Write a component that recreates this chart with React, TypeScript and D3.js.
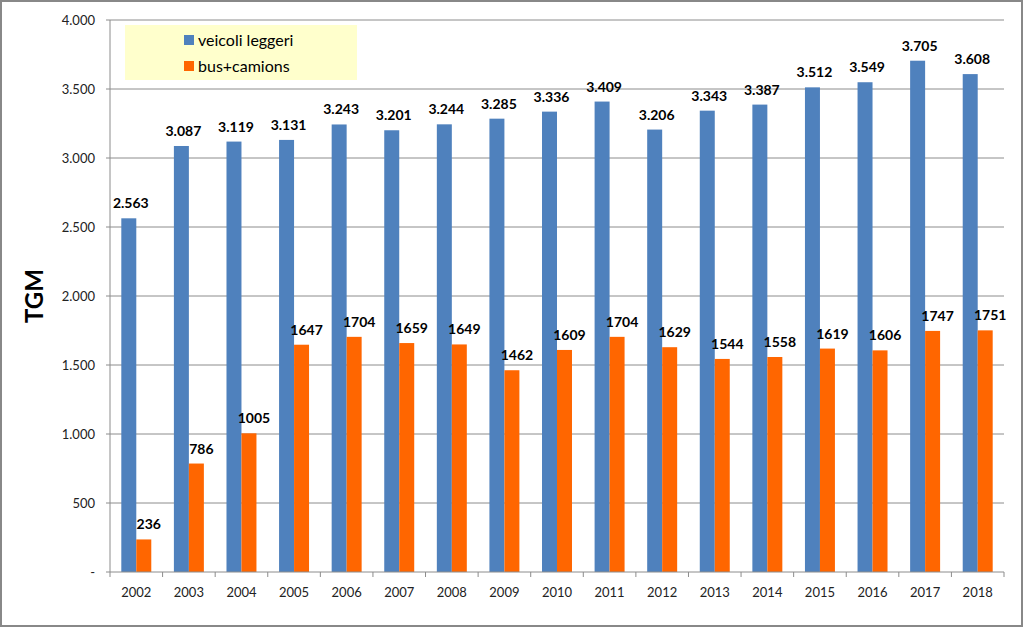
import React from "react";
import * as d3 from "d3";

const years = ["2002","2003","2004","2005","2006","2007","2008","2009","2010","2011","2012","2013","2014","2015","2016","2017","2018"];
const leggeri = [2563,3087,3119,3131,3243,3201,3244,3285,3336,3409,3206,3343,3387,3512,3549,3705,3608];
const bus = [236,786,1005,1647,1704,1659,1649,1462,1609,1704,1629,1544,1558,1619,1606,1747,1751];
const yTicks = [0,500,1000,1500,2000,2500,3000,3500,4000];
const seriesNames = ["veicoli leggeri", "bus+camions"];
const colors = ["#4F81BD", "#FF6600"];

const W = 1024, H = 628;
const left = 110, right = 1004, top = 20, bottom = 572;
const font = "Lato, 'Open Sans', sans-serif";

export default function App() {
  const x = d3.scaleBand<string>().domain(years).range([left, right]).paddingInner(0).paddingOuter(0);
  const y = d3.scaleLinear().domain([0, 4000]).range([bottom, top]);
  const bw = x.bandwidth();
  const barW = bw * 0.285;
  const fmtIt = (v: number) => v === 0 ? "-" : d3.format(",")(v).replace(/,/g, ".");
  return (
    <svg width={W} height={H} style={{ position: "absolute", left: 0, top: 0, fontFamily: font }}>
      <rect x={0} y={0} width={W} height={H} fill="#fff" />
      <rect x={1} y={1} width={W - 3} height={H - 3} fill="none" stroke="#888" strokeWidth={2} />
      {yTicks.map(t => (
        <g key={t}>
          {t > 0 && <line x1={left} x2={right} y1={y(t)} y2={y(t)} stroke="#8c8c8c" strokeWidth={1} />}
          <line x1={left - 4} x2={left} y1={y(t)} y2={y(t)} stroke="#8c8c8c" />
          <text x={95} y={y(t)} dy="0.35em" textAnchor="end" fontSize={13} fill="#222">{fmtIt(t)}</text>
        </g>
      ))}
      {years.map((yr, i) => {
        const cx = x(yr)! + bw / 2;
        return (
          <g key={yr}>
            <rect x={cx - barW} y={y(leggeri[i])} width={barW} height={bottom - y(leggeri[i])} fill={colors[0]} />
            <rect x={cx} y={y(bus[i])} width={barW} height={bottom - y(bus[i])} fill={colors[1]} />
            <text x={cx - barW / 2 + 2} y={y(leggeri[i]) - 10} textAnchor="middle" fontSize={14} fontWeight="bold" fill="#000">{fmtIt(leggeri[i])}</text>
            <text x={cx + barW / 2 + 5} y={y(bus[i]) - 10} textAnchor="middle" fontSize={14} fontWeight="bold" fill="#000">{String(bus[i])}</text>
            <text x={cx} y={bottom + 25} textAnchor="middle" fontSize={13} fill="#222">{yr}</text>
          </g>
        );
      })}
      <line x1={left} x2={left} y1={top} y2={bottom} stroke="#8c8c8c" />
      <line x1={left} x2={right} y1={bottom} y2={bottom} stroke="#8c8c8c" />
      {years.map((yr) => (
        <line key={yr} x1={x(yr)!} x2={x(yr)!} y1={bottom} y2={bottom + 5} stroke="#8c8c8c" />
      ))}
      <line x1={right} x2={right} y1={bottom} y2={bottom + 5} stroke="#8c8c8c" />
      <text transform={`translate(43,${(top + bottom) / 2}) rotate(-90)`} textAnchor="middle" fontSize={24} fontWeight="bold" fill="#000">TGM</text>
      <rect x={125} y={25} width={232} height={55} fill="#FFFFCC" />
      {seriesNames.map((n, i) => (
        <g key={n}>
          <rect x={184} y={35 + i * 26} width={10} height={10} fill={colors[i]} />
          <text x={198} y={40 + i * 26} dy="0.35em" fontSize={16} fill="#000">{n}</text>
        </g>
      ))}
    </svg>
  );
}
